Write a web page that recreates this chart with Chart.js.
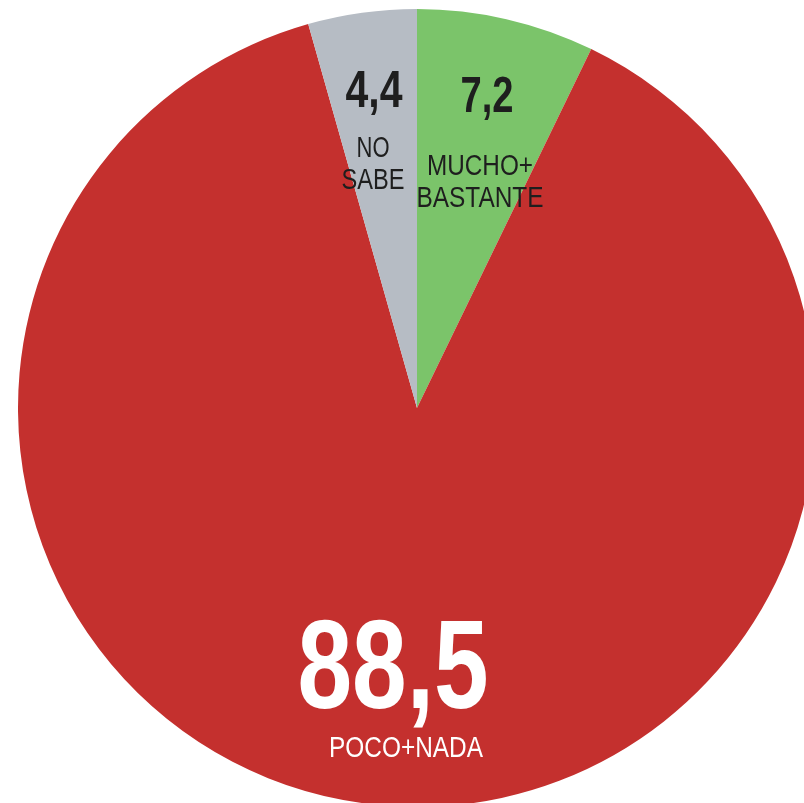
<!DOCTYPE html>
<html lang="es">
<head>
<meta charset="utf-8">
<title>Mucho+Bastante / Poco+Nada / No sabe</title>
<script src="https://cdn.jsdelivr.net/npm/chart.js@4/dist/chart.umd.min.js"></script>
<style>
  html, body { margin: 0; padding: 0; background: #ffffff; overflow: hidden; width: 804px; height: 803px; }
  #wrap { position: absolute; left: 18px; top: 9px; width: 798px; height: 798px; }
</style>
</head>
<body>
<div id="wrap"><canvas id="pieChart"></canvas></div>
<script>
/*
  Tarta de tres porciones, empezando a las 12 en sentido horario:
  verde (mucho+bastante), rojo (poco+nada), gris (no sabe)
*/
const categories = ["MUCHO+\nBASTANTE", "POCO+NADA", "NO\nSABE"];
const values = [7.2, 88.5, 4.4];
const sliceColors = ["#7BC46A", "#C4302E", "#B6BCC4"];

const FONT = '"Liberation Sans", Arial, sans-serif';

// estilo de cada etiqueta: desplazamiento desde el centro de la tarta
// y ancho máximo (la fuente original es condensada)
const labelStyles = [
  { color: "#1e1e1e", valueSize: 50, textSize: 30, valueDx: 70, valueDy: -296, valueW: 53,
    textDx: 63, textDy: -233, textW: [106, 127] },
  { color: "#ffffff", valueSize: 126, textSize: 30, valueDx: -24, valueDy: 300, valueW: 191,
    textDx: -11, textDy: 349, textW: [154] },
  { color: "#1e1e1e", valueSize: 52, textSize: 30, valueDx: -43, valueDy: -301, valueW: 57,
    textDx: -44, textDy: -251, textW: [33, 63] },
];

function formatValue(v) {
  return v.toFixed(1).replace(".", ",");
}

/**
 * Dibuja valor + texto de cada porción.
 */
const sliceLabels = {
  id: "sliceLabels",
  afterDatasetsDraw(chart) {
    const ctx = chart.ctx;
    const meta = chart.getDatasetMeta(0);
    ctx.save();
    ctx.textAlign = "center";
    ctx.textBaseline = "alphabetic";
    meta.data.forEach((arc, i) => {
      const s = labelStyles[i];
      ctx.fillStyle = s.color;
      ctx.font = `bold ${s.valueSize}px ${FONT}`;
      ctx.fillText(formatValue(values[i]), arc.x + s.valueDx, arc.y + s.valueDy, s.valueW);
      ctx.font = `${s.textSize}px ${FONT}`;
      categories[i].split("\n").forEach((line, j) => {
        ctx.fillText(line, arc.x + s.textDx, arc.y + s.textDy + j * 32, s.textW[j]);
      });
    });
    ctx.restore();
  },
};

new Chart(document.getElementById("pieChart"), {
  type: "pie",
  data: {
    labels: categories,
    datasets: [
      {
        data: values,
        backgroundColor: sliceColors,
        borderWidth: 0,
      },
    ],
  },
  options: {
    responsive: true,
    maintainAspectRatio: false,
    animation: false,
    layout: { padding: 0 },
    plugins: {
      legend: { display: false },
      tooltip: { enabled: false },
    },
  },
  plugins: [sliceLabels],
});
</script>
</body>
</html>
